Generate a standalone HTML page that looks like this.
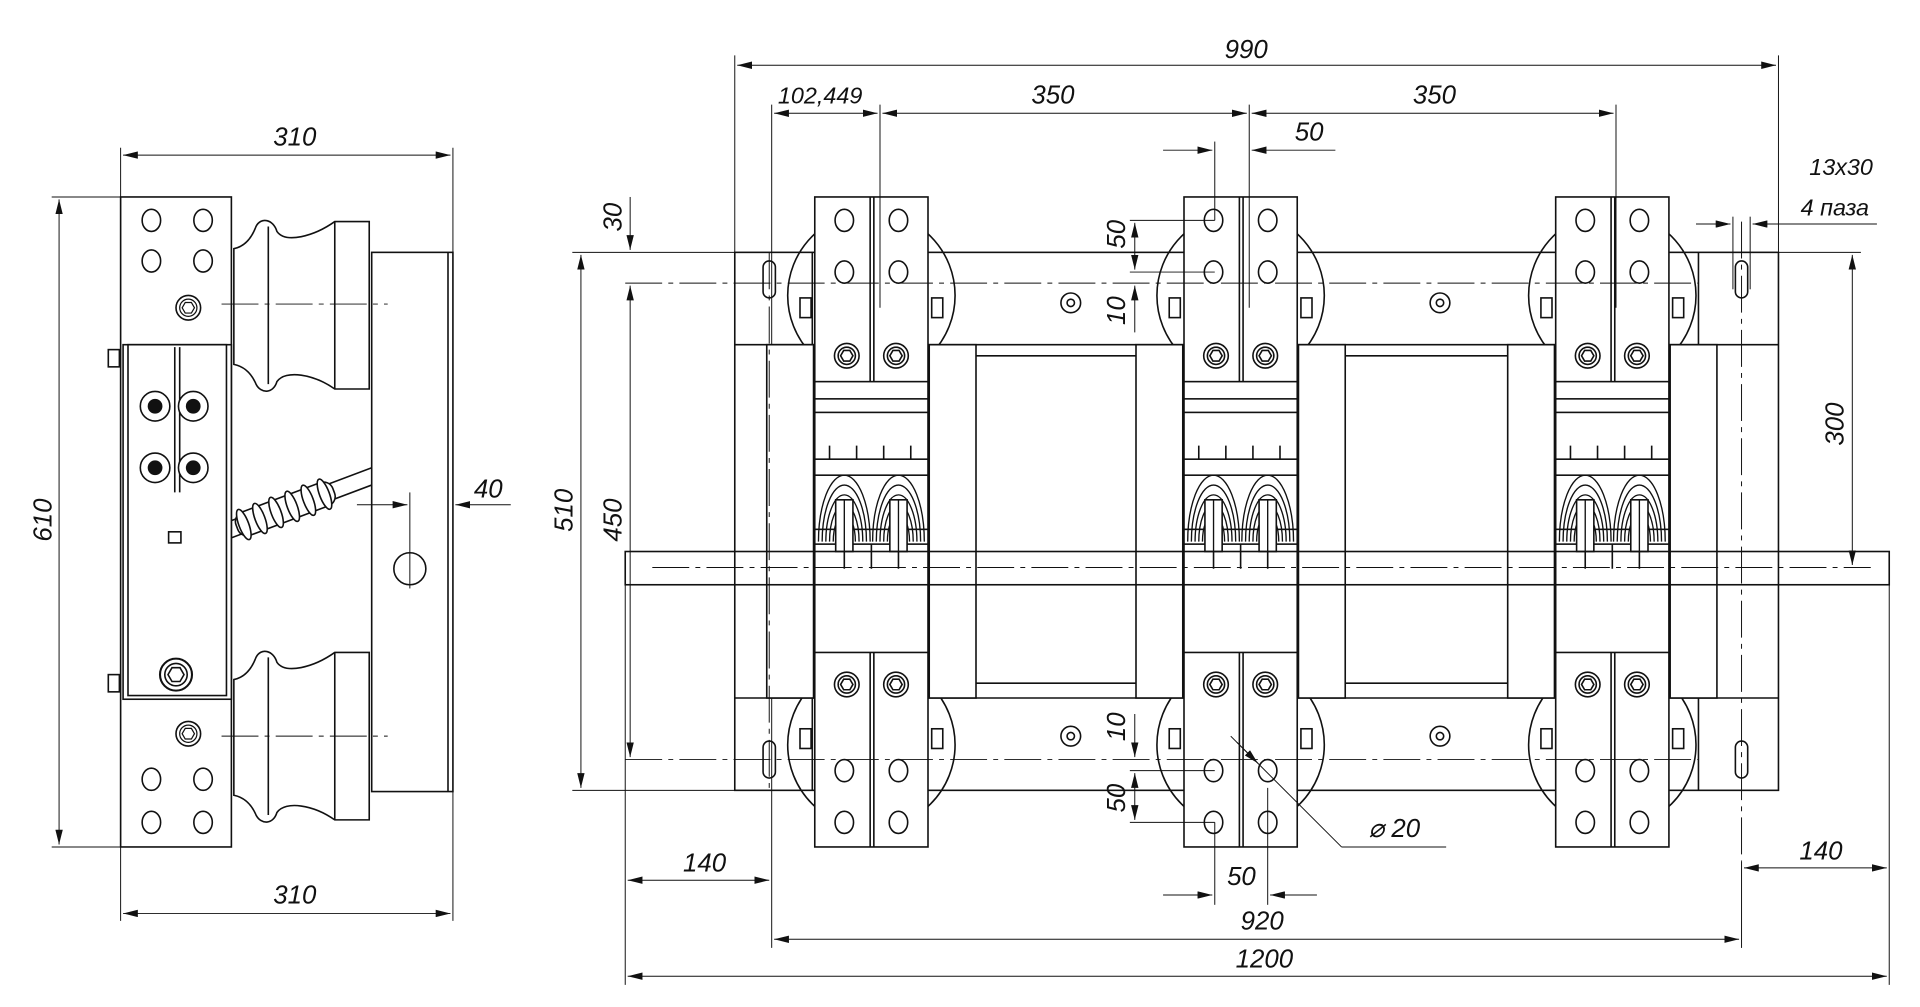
<!DOCTYPE html>
<html><head><meta charset="utf-8"><style>
html,body{margin:0;padding:0;background:#fff}
svg{display:block}
text{font-family:"Liberation Sans",sans-serif;font-style:italic;font-size:21px;fill:#111}
</style></head><body>
<svg width="1920" height="1007" viewBox="0 0 1560 818" preserveAspectRatio="none" xmlns="http://www.w3.org/2000/svg">
<defs>
<marker id="a" viewBox="0 0 12 6" refX="12" refY="3" markerWidth="12" markerHeight="6" markerUnits="userSpaceOnUse" orient="auto-start-reverse"><path d="M0,0 L12,3 L0,6 Z" fill="#111"/></marker>
<g id="hx"><circle r="10" fill="#fff" stroke="#111" stroke-width="1.3"/><circle r="7" fill="none" stroke="#111"/><path d="M-5,0 L-2.5,-4.3 L2.5,-4.3 L5,0 L2.5,4.3 L-2.5,4.3Z" fill="none" stroke="#111"/></g>
<g id="ho"><ellipse rx="7.5" ry="9" fill="#fff" stroke="#111" stroke-width="1.3"/></g>
<g id="coil" fill="none" stroke="#111" stroke-width="1.1">
<path d="M-21,440 A21,54 0 0 1 21,440"/><path d="M-18,440 A18,46 0 0 1 18,440"/><path d="M-15,440 A15,38 0 0 1 15,440"/><path d="M-12,440 A12,30 0 0 1 12,440"/><path d="M-9,440 A9,22 0 0 1 9,440"/>
<rect x="-7" y="406" width="14" height="42" fill="#fff" stroke-width="1.3"/><line x1="0" y1="406" x2="0" y2="448"/>
</g>
<g id="mod" stroke="#111" stroke-width="1.3">
<circle cx="0" cy="240" r="68" fill="none"/>
<circle cx="0" cy="605" r="68" fill="none"/>
<rect x="-85" y="280" width="38" height="287" fill="#fff"/>
<rect x="47" y="280" width="38" height="287" fill="#fff"/>
<rect x="-46" y="305" width="92" height="230" fill="#fff"/>
<rect x="-46" y="324" width="92" height="11" fill="#fff"/>
<rect x="-46" y="373" width="92" height="13" fill="#fff"/>
<path d="M-34,362V373M-12,362V373M10,362V373M32,362V373" fill="none"/>
<rect x="-46" y="430" width="92" height="12" fill="#fff"/>
<use href="#coil" x="-22"/><use href="#coil" x="22"/>
<path d="M-22,448V462M0,442V462M22,448V462" fill="none"/>
<rect x="-58" y="242" width="9" height="16" fill="#fff"/><rect x="49" y="242" width="9" height="16" fill="#fff"/>
<rect x="-58" y="592" width="9" height="16" fill="#fff"/><rect x="49" y="592" width="9" height="16" fill="#fff"/>
<rect x="-46" y="160" width="92" height="150" fill="#fff"/>
<rect x="-46" y="530" width="92" height="158" fill="#fff"/>
<path d="M-1,160V310M2,160V310M-1,530V688M2,530V688" fill="none"/>
<use href="#ho" x="-22" y="179"/><use href="#ho" x="22" y="179"/><use href="#ho" x="-22" y="221"/><use href="#ho" x="22" y="221"/>
<use href="#hx" x="-20" y="289"/><use href="#hx" x="20" y="289"/>
<use href="#hx" x="-20" y="556"/><use href="#hx" x="20" y="556"/>
<use href="#ho" x="-22" y="626"/><use href="#ho" x="22" y="626"/><use href="#ho" x="-22" y="668"/><use href="#ho" x="22" y="668"/>
</g>
</defs>
<rect width="1560" height="818" fill="#fff"/>

<!-- LEFT VIEW -->
<g stroke="#111" stroke-width="1.3" fill="#fff">
<rect x="302" y="205" width="66" height="438"/>
<line x1="364" y1="205" x2="364" y2="643"/>
<path d="M190,202 C200,200 205,192 208,184 C212,176 222,178 225,188 C232,198 255,192 272,180 L300,180 L300,316 L272,316 C255,304 232,300 225,310 C222,320 212,320 208,312 C205,305 200,298 190,296Z"/>
<line x1="272" y1="180" x2="272" y2="316"/><line x1="218" y1="184" x2="218" y2="312"/>
<path d="M190,552 C200,550 205,542 208,534 C212,526 222,528 225,538 C232,548 255,542 272,530 L300,530 L300,666 L272,666 C255,654 232,650 225,660 C222,670 212,670 208,662 C205,655 200,648 190,646Z"/>
<line x1="272" y1="530" x2="272" y2="666"/><line x1="218" y1="534" x2="218" y2="662"/>
<path d="M185,424 L302,380 L302,394 L185,438Z"/>
<g transform="translate(185 431) rotate(-20.6)">
<rect x="8" y="-10" width="84" height="20" rx="8"/>
<ellipse cx="14" cy="0" rx="4" ry="13"/><ellipse cx="28" cy="0" rx="4" ry="13"/><ellipse cx="42" cy="0" rx="4" ry="13"/><ellipse cx="56" cy="0" rx="4" ry="13"/><ellipse cx="70" cy="0" rx="4" ry="13"/><ellipse cx="84" cy="0" rx="4" ry="13"/>
</g>
<circle cx="333" cy="462" r="13"/>
<rect x="98" y="160" width="90" height="528"/>
<rect x="100" y="280" width="88" height="288"/>
<rect x="104" y="280" width="80" height="285"/>
<line x1="142" y1="282" x2="142" y2="400"/><line x1="146" y1="282" x2="146" y2="400"/>
<rect x="88" y="284" width="9" height="14"/><rect x="88" y="548" width="9" height="14"/>
<rect x="137" y="432" width="10" height="9"/>
</g>
<g>
<use href="#ho" x="123" y="179"/><use href="#ho" x="165" y="179"/><use href="#ho" x="123" y="212"/><use href="#ho" x="165" y="212"/>
<use href="#ho" x="123" y="633"/><use href="#ho" x="165" y="633"/><use href="#ho" x="123" y="668"/><use href="#ho" x="165" y="668"/>
<use href="#hx" x="153" y="250"/><use href="#hx" x="153" y="596"/>
<use href="#hx" x="143" y="548" transform="translate(-42.9 -164.4) scale(1.3)"/>
</g>
<g fill="#fff" stroke="#111" stroke-width="1.3">
<circle cx="126" cy="330" r="12"/><circle cx="157" cy="330" r="12"/><circle cx="126" cy="380" r="12"/><circle cx="157" cy="380" r="12"/>
</g>
<g fill="#111"><circle cx="126" cy="330" r="6"/><circle cx="157" cy="330" r="6"/><circle cx="126" cy="380" r="6"/><circle cx="157" cy="380" r="6"/></g>
<g stroke="#111" stroke-width="0.8" fill="none" stroke-dasharray="30,5,4,5">
<line x1="180" y1="247" x2="315" y2="247"/><line x1="180" y1="598" x2="315" y2="598"/>
</g>
<g stroke="#111" stroke-width="0.8" fill="none">
<line x1="98" y1="160" x2="98" y2="748"/><line x1="368" y1="120" x2="368" y2="748"/>
<line x1="98" y1="120" x2="98" y2="160"/>
<line x1="100" y1="126" x2="366" y2="126" marker-start="url(#a)" marker-end="url(#a)"/>
<line x1="100" y1="742" x2="366" y2="742" marker-start="url(#a)" marker-end="url(#a)"/>
<line x1="42" y1="160" x2="98" y2="160"/><line x1="42" y1="688" x2="98" y2="688"/>
<line x1="48" y1="162" x2="48" y2="686" marker-start="url(#a)" marker-end="url(#a)"/>
<line x1="333" y1="400" x2="333" y2="478"/>
<line x1="290" y1="410" x2="331" y2="410" marker-end="url(#a)"/>
<line x1="415" y1="410" x2="370" y2="410" marker-end="url(#a)"/>
</g>
<text x="222" y="118">310</text><text x="222" y="734">310</text>
<text transform="translate(42 440) rotate(-90)">610</text>
<text x="385" y="404">40</text>

<!-- RIGHT VIEW -->
<g stroke="#111" stroke-width="1.3" fill="#fff">
<rect x="597" y="205" width="848" height="437"/>
<line x1="597" y1="280" x2="1445" y2="280"/>
<line x1="597" y1="567" x2="1445" y2="567"/>
<line x1="660" y1="205" x2="660" y2="642"/><line x1="1380" y1="205" x2="1380" y2="642"/>
<line x1="793" y1="289" x2="1380" y2="289"/><line x1="793" y1="555" x2="1380" y2="555"/>
<line x1="623" y1="280" x2="623" y2="567"/><line x1="1392" y1="280" x2="1392" y2="567"/>
<rect x="620" y="212" width="10" height="30" rx="5"/><rect x="1410" y="212" width="10" height="30" rx="5"/>
<rect x="620" y="602" width="10" height="30" rx="5"/><rect x="1410" y="602" width="10" height="30" rx="5"/>
<circle cx="870" cy="246" r="8"/><circle cx="870" cy="246" r="3"/>
<circle cx="1170" cy="246" r="8"/><circle cx="1170" cy="246" r="3"/>
<circle cx="870" cy="598" r="8"/><circle cx="870" cy="598" r="3"/>
<circle cx="1170" cy="598" r="8"/><circle cx="1170" cy="598" r="3"/>
</g>
<use href="#mod" x="708"/><use href="#mod" x="1008"/><use href="#mod" x="1310"/>
<g stroke="#111" stroke-width="1.3" fill="none">
<rect x="508" y="448" width="1027" height="27"/>
</g>
<g stroke="#111" stroke-width="0.8" fill="none" stroke-dasharray="30,5,4,5">
<line x1="508" y1="230" x2="1380" y2="230"/>
<line x1="508" y1="617" x2="1380" y2="617"/>
<line x1="530" y1="461" x2="1520" y2="461"/>
<line x1="625" y1="205" x2="625" y2="640"/><line x1="1415" y1="180" x2="1415" y2="700"/>
</g>
<g stroke="#111" stroke-width="0.8" fill="none">
<line x1="597" y1="45" x2="597" y2="205"/><line x1="1445" y1="45" x2="1445" y2="205"/>
<line x1="599" y1="53" x2="1443" y2="53" marker-start="url(#a)" marker-end="url(#a)"/>
<line x1="627" y1="85" x2="627" y2="280"/><line x1="715" y1="85" x2="715" y2="250"/>
<line x1="1015" y1="85" x2="1015" y2="250"/><line x1="1313" y1="85" x2="1313" y2="250"/>
<line x1="629" y1="92" x2="713" y2="92" marker-start="url(#a)" marker-end="url(#a)"/>
<line x1="717" y1="92" x2="1013" y2="92" marker-start="url(#a)" marker-end="url(#a)"/>
<line x1="1017" y1="92" x2="1311" y2="92" marker-start="url(#a)" marker-end="url(#a)"/>
<line x1="987" y1="115" x2="987" y2="179"/>
<line x1="945" y1="122" x2="985" y2="122" marker-end="url(#a)"/>
<line x1="1085" y1="122" x2="1017" y2="122" marker-end="url(#a)"/>
<line x1="1408" y1="176" x2="1408" y2="235"/><line x1="1422" y1="176" x2="1422" y2="235"/>
<line x1="1378" y1="182" x2="1406" y2="182" marker-end="url(#a)"/>
<line x1="1525" y1="182" x2="1424" y2="182" marker-end="url(#a)"/>
<line x1="1445" y1="205" x2="1512" y2="205"/>
<line x1="1505" y1="207" x2="1505" y2="459" marker-start="url(#a)" marker-end="url(#a)"/>
<line x1="465" y1="205" x2="597" y2="205"/><line x1="465" y1="642" x2="597" y2="642"/>
<line x1="472" y1="207" x2="472" y2="640" marker-start="url(#a)" marker-end="url(#a)"/>
<line x1="512" y1="160" x2="512" y2="203" marker-end="url(#a)"/>
<line x1="512" y1="232" x2="512" y2="615" marker-start="url(#a)" marker-end="url(#a)"/>
<line x1="918" y1="179" x2="987" y2="179"/><line x1="918" y1="221" x2="987" y2="221"/>
<line x1="922" y1="181" x2="922" y2="219" marker-start="url(#a)" marker-end="url(#a)"/>
<line x1="922" y1="270" x2="922" y2="232" marker-end="url(#a)"/>
<line x1="922" y1="580" x2="922" y2="615" marker-end="url(#a)"/>
<line x1="918" y1="626" x2="987" y2="626"/><line x1="918" y1="668" x2="987" y2="668"/>
<line x1="922" y1="628" x2="922" y2="666" marker-start="url(#a)" marker-end="url(#a)"/>
<line x1="1000" y1="598" x2="1090" y2="688"/><line x1="1090" y1="688" x2="1175" y2="688"/>
<line x1="1005" y1="603" x2="1022" y2="620" marker-end="url(#a)"/>
<line x1="987" y1="668" x2="987" y2="735"/><line x1="1030" y1="640" x2="1030" y2="735"/>
<line x1="945" y1="727" x2="985" y2="727" marker-end="url(#a)"/>
<line x1="1070" y1="727" x2="1032" y2="727" marker-end="url(#a)"/>
<line x1="508" y1="475" x2="508" y2="800"/><line x1="1535" y1="475" x2="1535" y2="800"/>
<line x1="627" y1="567" x2="627" y2="770"/><line x1="1415" y1="700" x2="1415" y2="770"/>
<line x1="510" y1="715" x2="625" y2="715" marker-start="url(#a)" marker-end="url(#a)"/>
<line x1="1417" y1="705" x2="1533" y2="705" marker-start="url(#a)" marker-end="url(#a)"/>
<line x1="629" y1="763" x2="1413" y2="763" marker-start="url(#a)" marker-end="url(#a)"/>
<line x1="510" y1="793" x2="1533" y2="793" marker-start="url(#a)" marker-end="url(#a)"/>
</g>
<text x="995" y="47">990</text>
<text x="632" y="84" style="font-size:19px">102,449</text>
<text x="838" y="84">350</text><text x="1148" y="84">350</text>
<text x="1052" y="114">50</text>
<text x="1470" y="142" style="font-size:19px">13x30</text>
<text x="1463" y="175" style="font-size:19px">4 паза</text>
<text transform="translate(505 188) rotate(-90)">30</text>
<text transform="translate(465 432) rotate(-90)">510</text>
<text transform="translate(505 440) rotate(-90)">450</text>
<text transform="translate(1498 362) rotate(-90)">300</text>
<text transform="translate(914 202) rotate(-90)">50</text>
<text transform="translate(914 264) rotate(-90)">10</text>
<text transform="translate(914 602) rotate(-90)">10</text>
<text transform="translate(914 660) rotate(-90)">50</text>
<text x="1112" y="680">⌀ 20</text>
<text x="555" y="708">140</text><text x="1462" y="698">140</text>
<text x="997" y="719">50</text>
<text x="1008" y="755">920</text><text x="1004" y="786">1200</text>
</svg>
</body></html>
